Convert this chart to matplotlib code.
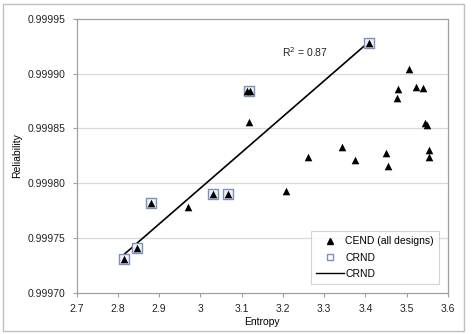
import numpy as np
import matplotlib
matplotlib.use("Agg")
import matplotlib.pyplot as plt
from matplotlib.patches import Rectangle
from matplotlib.lines import Line2D

plt.rcParams['font.family'] = ['Liberation Sans', 'DejaVu Sans']

# CEND (all designs)
cend_x = [2.815, 2.845, 2.879, 2.969, 3.030, 3.066, 3.114, 3.120, 3.118,
          3.207, 3.261, 3.342, 3.374, 3.408, 3.450, 3.454, 3.476, 3.479,
          3.505, 3.523, 3.540, 3.545, 3.550, 3.555, 3.555]
cend_y = [0.999731, 0.999741, 0.999782, 0.999778, 0.999790, 0.999790, 0.999884, 0.999884, 0.999856,
          0.999793, 0.999824, 0.999833, 0.999821, 0.999928, 0.999828, 0.999816, 0.999878, 0.999886,
          0.999904, 0.999888, 0.999887, 0.999855, 0.999853, 0.999830, 0.999824]

# CRND
crnd_x = [2.815, 2.845, 2.879, 3.030, 3.066, 3.117, 3.408]
crnd_y = [0.999731, 0.999741, 0.999782, 0.999790, 0.999790, 0.999884, 0.999928]

# linear trendline of CRND
trend_slope = 0.000327
trend_intercept = 0.9988145

r2_label = "R$^2$ = 0.87"
x_ticks = [2.7, 2.8, 2.9, 3.0, 3.1, 3.2, 3.3, 3.4, 3.5, 3.6]
x_tick_labels = ["2.7", "2.8", "2.9", "3", "3.1", "3.2", "3.3", "3.4", "3.5", "3.6"]
y_ticks = [0.99970, 0.99975, 0.99980, 0.99985, 0.99990, 0.99995]
y_tick_labels = ["0.99970", "0.99975", "0.99980", "0.99985", "0.99990", "0.99995"]

fig = plt.figure(figsize=(4.72, 3.34), dpi=100)
ax = fig.add_axes([0.1625, 0.1237, 0.7865, 0.8194])

# outer chart border
fig.patches.append(Rectangle((3/472, 3/334), 461/472, 327/334, transform=fig.transFigure,
                             fill=False, edgecolor='#c0c0c0', linewidth=1.0))

gray = '#a0a0a0'
ax.set_xlim(2.7, 3.6)
ax.set_ylim(0.99970, 0.99995)
ax.set_yticks(y_ticks)
ax.set_yticklabels(y_tick_labels)
ax.set_xticks(x_ticks)
ax.set_xticklabels(x_tick_labels)
for ygl in y_ticks[1:-1]:
    ax.axhline(ygl, color='#d9d9d9', linewidth=0.9, zorder=0)
for s in ax.spines.values():
    s.set_color(gray)
    s.set_linewidth(0.9)
ax.tick_params(axis='both', colors=gray, labelcolor='#222222', labelsize=7.5,
               length=3, width=0.8, direction='out')
ax.tick_params(axis='x', pad=5)
ax.tick_params(axis='y', pad=5)

# trend line over the CRND range
xl = np.array([min(crnd_x), max(crnd_x)])
ax.plot(xl, trend_intercept + trend_slope * xl, color='black', linewidth=1.2, zorder=3)

ax.scatter(crnd_x, crnd_y, marker='s', s=52, facecolor='#eef1f7', edgecolor='#7d8fbd',
           linewidth=1.0, zorder=4)
ax.scatter(cend_x, cend_y, marker='^', s=30, color='black', zorder=5, linewidth=0)

ax.text(3.253, 0.999920, r2_label, fontsize=7.5, ha='center', va='center', color='#222222')

ax.set_xlabel('Entropy', fontsize=7.5, labelpad=2)
ax.set_ylabel('Reliability', fontsize=7.5, labelpad=4)

handles = [Line2D([], [], marker='^', color='black', linestyle='None', markersize=5),
           Line2D([], [], marker='s', markerfacecolor='white', markeredgecolor='#7d8fbd',
                  linestyle='None', markersize=4),
           Line2D([], [], color='black', linewidth=1.0)]
leg = ax.legend(handles, ['CEND (all designs)', 'CRND', 'CRND'], loc='lower right',
                bbox_to_anchor=(0.99, 0.012), fontsize=7.5, frameon=True, fancybox=False,
                edgecolor='#c8c8c8', handlelength=2.7, borderpad=0.5, labelspacing=0.6,
                handletextpad=0.1)
leg.get_frame().set_linewidth(0.8)

fig.savefig('out.png', dpi=100)
